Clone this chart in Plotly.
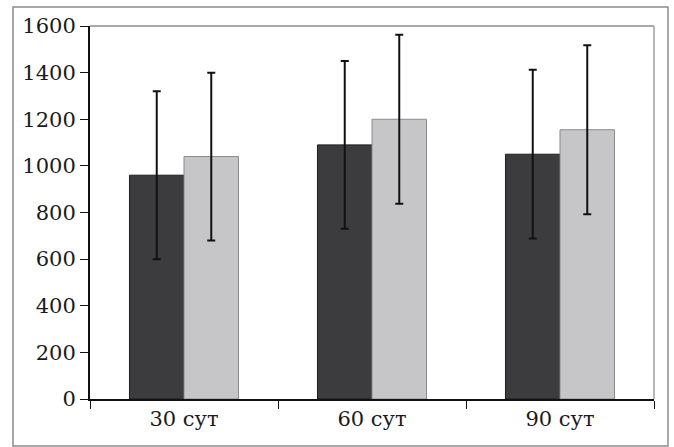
import plotly.graph_objects as go

categories = ["30 сут", "60 сут", "90 сут"]
series_dark = [960, 1090, 1050]
series_light = [1040, 1200, 1155]
err_dark = [360, 360, 362]
err_light = [360, 362, 362]
y_ticks = [0, 200, 400, 600, 800, 1000, 1200, 1400, 1600]

FONT = "DejaVu Serif"

fig = go.Figure()
fig.add_trace(go.Bar(
    x=categories, y=series_dark,
    marker=dict(color="#3c3c3e", line=dict(color="#1e1e1e", width=1)),
    error_y=dict(type="data", array=err_dark, visible=True,
                 color="#111111", thickness=2, width=4),
    showlegend=False,
))
fig.add_trace(go.Bar(
    x=categories, y=series_light,
    marker=dict(color="#c6c6c8", line=dict(color="#8a8a8a", width=1)),
    error_y=dict(type="data", array=err_light, visible=True,
                 color="#111111", thickness=2, width=4),
    showlegend=False,
))

W, H = 674, 447
L, R, T, B = 90, 20, 26, 48
pw = W - L - R
ph = H - T - B

def px(x):
    return (x - L) / pw

def py(y):
    return (H - B - y) / ph

fig.update_layout(
    width=W, height=H,
    margin=dict(l=L, r=R, t=T, b=B),
    paper_bgcolor="white", plot_bgcolor="white",
    barmode="group", bargap=0.42, bargroupgap=0,
    font=dict(family=FONT, size=21, color="#1a1a1a"),
    xaxis=dict(
        showline=True, linecolor="#111111", linewidth=2,
        ticks="outside", ticklen=8, tickcolor="#111111", tickwidth=1,
        tickson="boundaries", showgrid=False, zeroline=False,
        tickfont=dict(family=FONT, size=21, color="#1a1a1a"),
        mirror=False,
    ),
    yaxis=dict(
        range=[0, 1600], tickvals=y_ticks,
        showline=True, linecolor="#111111", linewidth=2,
        ticks="outside", ticklen=8, tickcolor="#111111", tickwidth=1,
        showgrid=False, zeroline=False,
        tickfont=dict(family=FONT, size=21, color="#1a1a1a"),
    ),
    shapes=[
        dict(type="line", xref="paper", yref="paper", x0=0, x1=1, y0=1, y1=1,
             line=dict(color="#8c8c8c", width=1.5)),
        dict(type="line", xref="paper", yref="paper", x0=1, x1=1, y0=0, y1=1,
             line=dict(color="#a0a0a0", width=1.5)),
        dict(type="rect", xref="paper", yref="paper",
             x0=px(13), x1=px(668), y0=py(446), y1=py(7),
             line=dict(color="#8c8c8c", width=1.5), fillcolor="rgba(0,0,0,0)",
             layer="above"),
    ],
)

fig.write_html("out.html",
               config={"displayModeBar": False},
               post_script="document.body.style.margin='0';document.body.style.padding='0';")
